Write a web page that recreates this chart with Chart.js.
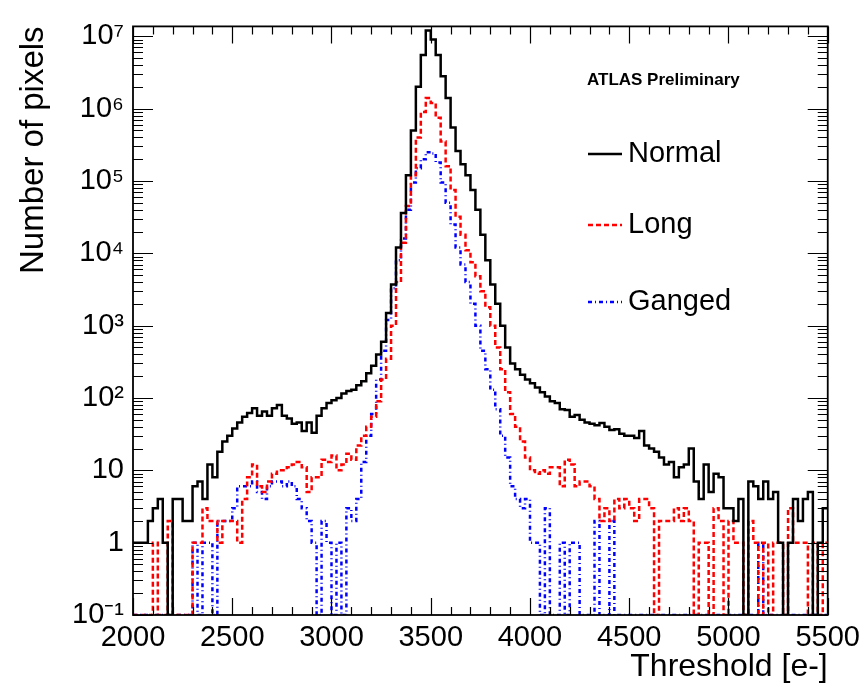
<!DOCTYPE html>
<html lang="en">
  <head>
    <meta charset="UTF-8" />
    <title>Threshold distribution</title>
    <script src="https://cdn.jsdelivr.net/npm/chart.js@4.4.1/dist/chart.umd.min.js"></script>
    <style>
      html,
      body {
        margin: 0;
        padding: 0;
        background: white;
      }
      canvas {
        display: block;
      }
    </style>
  </head>
  <body>
    <canvas id="chart" width="866" height="690"></canvas>
    <script>
      // histogram bins: 2000 .. 5500 e-, 25 e- wide
      const binStart = 2000;
      const binWidth = 25;

      const normal = [
        1, 1, 1, 2, 3, 4, 1, 0, 4, 4,
        2, 2, 6, 7, 4, 12, 8, 18, 25, 30,
        38, 46, 55, 62, 72, 57, 65, 57, 72, 80,
        57, 52, 44, 46, 35, 46, 33, 57, 72, 85,
        93, 100, 115, 125, 130, 150, 170, 220, 280, 400,
        600, 1500, 3700, 12000, 36000, 120000, 500000, 2000000, 5500000, 12000000,
        9000000, 5500000, 2800000, 1400000, 550000, 260000, 170000, 120000, 75000, 40000,
        18000, 8000, 3700, 2000, 1000, 500, 300, 250, 210, 180,
        160, 140, 120, 105, 90, 85, 70, 68, 55, 58,
        50, 46, 44, 42, 45, 40, 36, 37, 32, 30,
        30, 28, 35, 22, 20, 18, 15, 12, 13, 8,
        11, 12, 20, 7, 4, 12, 5, 9, 8, 3,
        3, 2, 4, 0, 7, 6, 4, 7, 4, 5,
        1, 0, 1, 4, 2, 4, 5, 0, 1, 3,
      ];

      const long = [
        0, 0, 0, 0, 1, 0, 0, 2, 0, 0,
        0, 0, 1, 1, 3, 2, 2, 1, 2, 2,
        2, 1, 4, 8, 12, 6, 5, 7, 9, 10,
        10, 11, 12, 13, 11, 5, 8, 8, 14, 13,
        16, 10, 12, 17, 14, 22, 30, 40, 55, 90,
        180, 350, 1000, 4000, 14000, 45000, 120000, 400000, 900000, 1400000,
        1200000, 750000, 350000, 160000, 75000, 32000, 18000, 11000, 7500, 4800,
        3000, 1800, 1000, 500, 250, 120, 60, 40, 25, 15,
        10, 9, 10, 9, 11, 11, 6, 14, 12, 6,
        7, 7, 6, 4, 2, 3, 2, 4, 3, 4,
        3, 2, 4, 4, 3, 0, 2, 2, 2, 3,
        2, 3, 2, 0, 1, 1, 0, 3, 2, 0,
        2, 1, 1, 0, 2, 1, 0, 1, 0, 1,
        1, 0, 3, 1, 1, 1, 0, 1, 0, 1,
      ];

      const ganged = [
        0, 0, 0, 0, 0, 0, 0, 0, 0, 0,
        0, 0, 1, 0, 1, 1, 0, 2, 2, 2,
        3, 6, 6, 6, 7, 5, 4, 6, 7, 7,
        6, 7, 6, 4, 3, 2, 1, 0, 2, 1,
        0, 1, 0, 3, 2, 4, 13, 30, 60, 180,
        450, 1200, 3300, 8000, 16000, 40000, 95000, 150000, 200000, 250000,
        240000, 180000, 95000, 50000, 25000, 12000, 7000, 4000, 2000, 1000,
        450, 250, 130, 70, 30, 15, 6, 4, 3, 4,
        1, 1, 0, 3, 0, 0, 1, 0, 1, 1,
        0, 0, 0, 2, 0, 0, 2, 0, 0, 0,
        0, 0, 0, 0, 0, 0, 0, 0, 0, 0,
        0, 0, 0, 0, 0, 0, 0, 0, 0, 0,
        0, 0, 0, 0, 0, 0, 1, 0, 0, 0,
        0, 0, 0, 0, 0, 0, 0, 0, 0, 0,
      ];

      const seriesNames = ["Normal", "Long", "Ganged"];
      const caption = "ATLAS Preliminary";
      const xLabel = "Threshold [e-]";
      const yLabel = "Number of pixels";
      const yMin = 0.1;
      const yMax = 1.37e7;

      const tickFont = "'Liberation Sans', Arial, sans-serif";
      const textFont = "'Liberation Sans', Arial, sans-serif";

      // bin low edges, plus the closing edge so the last step is drawn.
      // empty bins sit on the axis floor, as ROOT draws them on a log axis
      function toSteps(values) {
        const pts = values.map((v, i) => ({ x: binStart + i * binWidth, y: v > 0 ? v : yMin }));
        const last = values[values.length - 1];
        pts.push({ x: binStart + values.length * binWidth, y: last > 0 ? last : yMin });
        return pts;
      }

      const sup = { "-": "⁻", 0: "⁰", 1: "¹", 2: "²", 3: "³", 4: "⁴", 5: "⁵", 6: "⁶", 7: "⁷", 8: "⁸", 9: "⁹" };
      function powerLabel(v) {
        const l = Math.log10(v);
        const e = Math.round(l);
        if (Math.abs(l - e) > 1e-6) return "";
        if (e === 0) return "1";
        if (e === 1) return "10";
        return "10" + String(e).split("").map((c) => sup[c]).join("");
      }

      // ROOT style frame with inward ticks on all four sides
      const frame = {
        id: "frame",
        afterDatasetsDraw(chart) {
          const { ctx, chartArea: a, scales } = chart;
          const x = scales.x;
          const y = scales.y;
          ctx.save();
          ctx.strokeStyle = "#000";
          ctx.lineWidth = 1.2;
          ctx.beginPath();
          for (let v = x.min; v <= x.max; v += 100) {
            const px = Math.round(x.getPixelForValue(v)) + 0.5;
            const len = v % 500 === 0 ? 17 : 8;
            ctx.moveTo(px, a.bottom);
            ctx.lineTo(px, a.bottom - len);
            ctx.moveTo(px, a.top);
            ctx.lineTo(px, a.top + len);
          }
          for (let e = -1; e <= 7; e++) {
            for (let m = 1; m <= 9; m++) {
              const v = m * Math.pow(10, e);
              if (v > y.max) break;
              const py = Math.round(y.getPixelForValue(v)) + 0.5;
              const len = m === 1 ? 20 : 10;
              ctx.moveTo(a.left, py);
              ctx.lineTo(a.left + len, py);
              ctx.moveTo(a.right, py);
              ctx.lineTo(a.right - len, py);
            }
          }
          ctx.stroke();
          ctx.lineWidth = 1.8;
          ctx.strokeRect(a.left, a.top, a.right - a.left, a.bottom - a.top);
          ctx.restore();
        },
      };

      const legendBase = [162, 233, 310];
      const annotate = {
        id: "annotate",
        afterDraw(chart) {
          const { ctx } = chart;
          ctx.save();
          ctx.fillStyle = "#000";
          ctx.font = "bold 17px " + textFont;
          ctx.fillText(caption, 587, 85);
          ctx.font = "29px " + textFont;
          chart.data.datasets.forEach((ds, i) => {
            const b = legendBase[i];
            ctx.strokeStyle = ds.borderColor;
            ctx.lineWidth = ds.borderWidth;
            ctx.setLineDash(ds.borderDash || []);
            ctx.beginPath();
            ctx.moveTo(588, b - 8);
            ctx.lineTo(622, b - 8);
            ctx.stroke();
            ctx.fillText(ds.label, 628, b);
          });
          ctx.restore();
        },
      };

      new Chart(document.getElementById("chart"), {
        type: "line",
        data: {
          datasets: [
            {
              label: seriesNames[0],
              data: toSteps(normal),
              borderColor: "#000000",
              borderWidth: 2.5,
            },
            {
              label: seriesNames[1],
              data: toSteps(long),
              borderColor: "#ff0000",
              borderWidth: 2.5,
              borderDash: [5, 3],
            },
            {
              label: seriesNames[2],
              data: toSteps(ganged),
              borderColor: "#0000ff",
              borderWidth: 2.5,
              borderDash: [4, 3, 1, 3],
            },
          ],
        },
        options: {
          responsive: false,
          animation: false,
          layout: { padding: { left: 0, top: 18, right: 38, bottom: 0 } },
          plugins: {
            legend: { display: false },
            tooltip: { enabled: false },
          },
          datasets: {
            line: { stepped: "before", pointRadius: 0, tension: 0, fill: false },
          },
          scales: {
            x: {
              type: "linear",
              min: 2000,
              max: 5500,
              grid: { display: false, drawTicks: false },
              border: { display: false },
              ticks: {
                stepSize: 500,
                padding: 6,
                maxRotation: 0,
                autoSkip: false,
                color: "#000",
                font: { family: tickFont, size: 29 },
                callback: (v) => String(v),
              },
              title: {
                display: true,
                text: xLabel,
                align: "end",
                color: "#000",
                font: { family: textFont, size: 32 },
                padding: { top: 0, bottom: 4 },
              },
              afterFit: (s) => {
                s.height = 75;
              },
            },
            y: {
              type: "logarithmic",
              min: yMin,
              max: yMax,
              grid: { display: false, drawTicks: false },
              border: { display: false },
              ticks: {
                autoSkip: false,
                padding: 9,
                color: "#000",
                font: { family: tickFont, size: 29 },
                callback: powerLabel,
              },
              title: {
                display: true,
                text: yLabel,
                align: "end",
                color: "#000",
                font: { family: textFont, size: 33 },
                padding: { top: 14, bottom: 0 },
              },
              afterFit: (s) => {
                s.width = 133;
              },
            },
          },
        },
        plugins: [frame, annotate],
      });
    </script>
  </body>
</html>
